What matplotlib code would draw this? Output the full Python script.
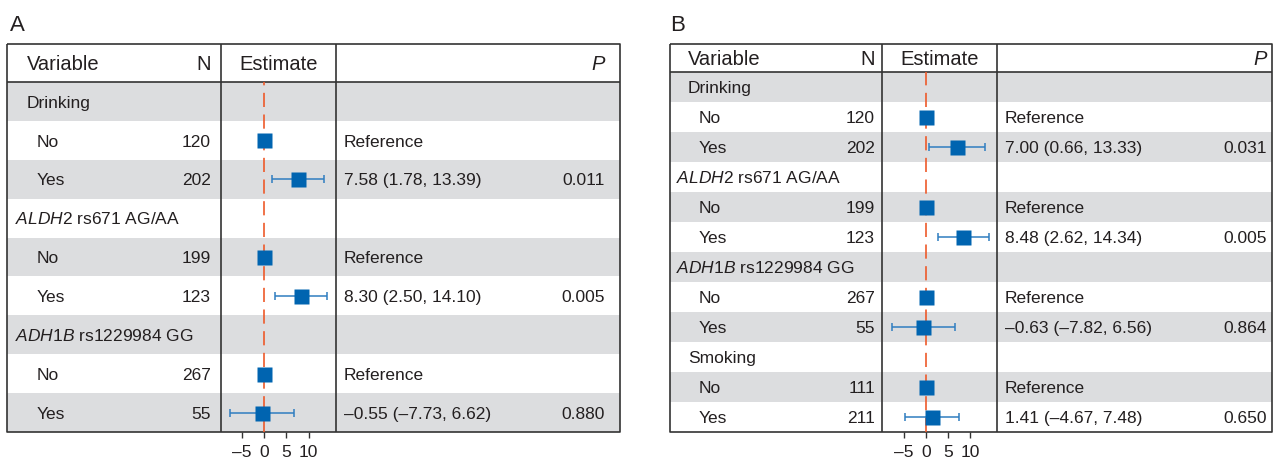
import matplotlib
matplotlib.use("Agg")
import matplotlib.pyplot as plt
from matplotlib.patches import Rectangle

# ---------------- data ----------------
groups_A = ["Drinking", "ALDH2 rs671 AG/AA", "ADH1B rs1229984 GG"]
n_no_A = [120, 199, 267]
n_yes_A = [202, 123, 55]
est_A = [7.58, 8.30, -0.55]
lo_A = [1.78, 2.50, -7.73]
hi_A = [13.39, 14.10, 6.62]
p_A = ["0.011", "0.005", "0.880"]

groups_B = ["Drinking", "ALDH2 rs671 AG/AA", "ADH1B rs1229984 GG", "Smoking"]
n_no_B = [120, 199, 267, 111]
n_yes_B = [202, 123, 55, 211]
est_B = [7.00, 8.48, -0.63, 1.41]
lo_B = [0.66, 2.62, -7.82, -4.67]
hi_B = [13.33, 14.34, 6.56, 7.48]
p_B = ["0.031", "0.005", "0.864", "0.650"]

sub_labels = ["No", "Yes"]
ref_text = "Reference"
xticks = [-5, 0, 5, 10]
xtick_labels = ["\u20135", "0", "5", "10"]
header = ["Variable", "N", "Estimate", "P"]

# ---------------- style ----------------
plt.rcParams["font.family"] = ["Liberation Sans", "DejaVu Sans"]
plt.rcParams["mathtext.fontset"] = "custom"
plt.rcParams["mathtext.rm"] = "Liberation Sans"
plt.rcParams["mathtext.it"] = "Liberation Sans:italic"

W, H = 1273, 463
TXT = "#231f20"
GRAY = "#dcdddf"
LINE = "#333333"
BLUE = "#0064b0"
EBLUE = "#2f7dc0"
ORANGE = "#ee5a2a"
FS_H = 14.5
FS = 12.5
PX = 100 / 72.0

fig = plt.figure(figsize=(W / 100, H / 100), dpi=100)
bg = fig.add_axes([0, 0, 1, 1])
bg.set_xlim(0, W)
bg.set_ylim(H, 0)
bg.axis("off")


def fmt(v):
    return f"{v:.2f}".replace("-", "\u2013")


def group_label(name):
    parts = name.split(" ", 1)
    if parts[0] in ("ALDH2", "ADH1B"):
        return r"$\mathit{" + parts[0] + "}$ " + parts[1]
    return name


def panel(letter, geo, groups, n_no, n_yes, est, lo, hi, pv, xlim):
    L, ND, ED, R, T, HB, B = geo["L"], geo["ND"], geo["ED"], geo["R"], geo["T"], geo["HB"], geo["B"]
    nrows = len(groups) * 3
    rh = (B - HB) / nrows
    # panel letter
    bg.text(geo["letter_x"], 31, letter, fontsize=16, color=TXT, ha="left", va="baseline")
    # row backgrounds
    for i in range(nrows):
        if i % 2 == 0:
            bg.add_patch(Rectangle((L, HB + i * rh), R - L, rh, facecolor=GRAY, edgecolor="none", zorder=1))
    # borders
    kw = dict(color=LINE, lw=1.2, zorder=3, solid_capstyle="butt")
    bg.plot([L, R, R, L, L], [T, T, B, B, T], **kw)
    bg.plot([L, R], [HB, HB], **kw)
    bg.plot([ND, ND], [T, B], **kw)
    bg.plot([ED, ED], [T, B], **kw)
    # header
    hb = (T + HB) / 2 + 0.358 * FS_H * PX
    bg.text(geo["var_x"], hb, header[0], fontsize=FS_H, color=TXT, ha="left", va="baseline", zorder=4)
    bg.text(geo["n_x"], hb, header[1], fontsize=FS_H, color=TXT, ha="right", va="baseline", zorder=4)
    bg.text((ND + ED) / 2, hb, header[2], fontsize=FS_H, color=TXT, ha="center", va="baseline", zorder=4)
    bg.text(geo["p_x"], hb, header[3], fontsize=FS_H, color=TXT, ha="right", va="baseline",
            style="italic", zorder=4)
    # rows
    off = 0.358 * FS * PX
    ys, xs, los, his = [], [], [], []
    for g, name in enumerate(groups):
        r0 = 3 * g
        yb = HB + (r0 + 0.5) * rh + off
        gx = geo["grp_x"] if name.split(" ")[0] in ("ALDH2", "ADH1B") else geo["var_x"]
        bg.text(gx, yb, group_label(name), fontsize=FS, color=TXT, ha="left", va="baseline", zorder=4)
        for k in range(2):
            r = r0 + 1 + k
            yb = HB + (r + 0.5) * rh + off
            bg.text(geo["sub_x"], yb, sub_labels[k], fontsize=FS, color=TXT, ha="left", va="baseline", zorder=4)
            nval = n_no[g] if k == 0 else n_yes[g]
            bg.text(geo["n_x"], yb, str(nval), fontsize=FS, color=TXT, ha="right", va="baseline", zorder=4)
            if k == 0:
                bg.text(geo["est_x"], yb, ref_text, fontsize=FS, color=TXT, ha="left", va="baseline", zorder=4)
                ys.append(r + 0.5); xs.append(0.0); los.append(0.0); his.append(0.0)
            else:
                s = f"{fmt(est[g])} ({fmt(lo[g])}, {fmt(hi[g])})"
                bg.text(geo["est_x"], yb, s, fontsize=FS, color=TXT, ha="left", va="baseline", zorder=4)
                bg.text(geo["p_x"], yb, pv[g], fontsize=FS, color=TXT, ha="right", va="baseline", zorder=4)
                ys.append(r + 0.5); xs.append(est[g]); los.append(lo[g]); his.append(hi[g])
    # forest axes
    ax = fig.add_axes([ND / W, 1 - B / H, (ED - ND) / W, (B - HB) / H])
    ax.patch.set_alpha(0)
    ax.set_xlim(*xlim)
    ax.set_ylim(nrows, 0)
    for sp in ax.spines.values():
        sp.set_visible(False)
    ax.set_yticks([])
    ax.set_xticks(xticks)
    ax.set_xticklabels(xtick_labels)
    ax.tick_params(axis="x", length=4.6, width=1.0, color=LINE, pad=5.0, labelsize=FS, labelcolor=TXT)
    ax.axvline(0, color=ORANGE, lw=1.2, linestyle=(0, (8.5, 4.5)), zorder=1)
    xerr_lo = [x - a for x, a in zip(xs, los)]
    xerr_hi = [b - x for x, b in zip(xs, his)]
    ci_idx = [i for i in range(len(xs)) if his[i] != los[i]]
    ax.errorbar([xs[i] for i in ci_idx], [ys[i] for i in ci_idx],
                xerr=[[xerr_lo[i] for i in ci_idx], [xerr_hi[i] for i in ci_idx]],
                fmt="none", ecolor=EBLUE, elinewidth=1.1, capsize=3.2, capthick=1.1, zorder=2)
    ax.plot(xs, ys, "s", ms=10.8, color=BLUE, mec="none", zorder=3, clip_on=False)


geoA = dict(L=7, ND=221, ED=336, R=620, T=44, HB=82, B=432,
            var_x=27, grp_x=15, sub_x=37, n_x=211, est_x=344, p_x=605, letter_x=10)
geoB = dict(L=670, ND=882, ED=997, R=1272, T=44, HB=72, B=432,
            var_x=688, grp_x=676, sub_x=699, n_x=875, est_x=1005, p_x=1267, letter_x=670)

panel("A", geoA, groups_A, n_no_A, n_yes_A, est_A, lo_A, hi_A, p_A, (-9.65, 16.15))
panel("B", geoB, groups_B, n_no_B, n_yes_B, est_B, lo_B, hi_B, p_B, (-10.0, 16.1))

fig.savefig("out.png", dpi=100)
